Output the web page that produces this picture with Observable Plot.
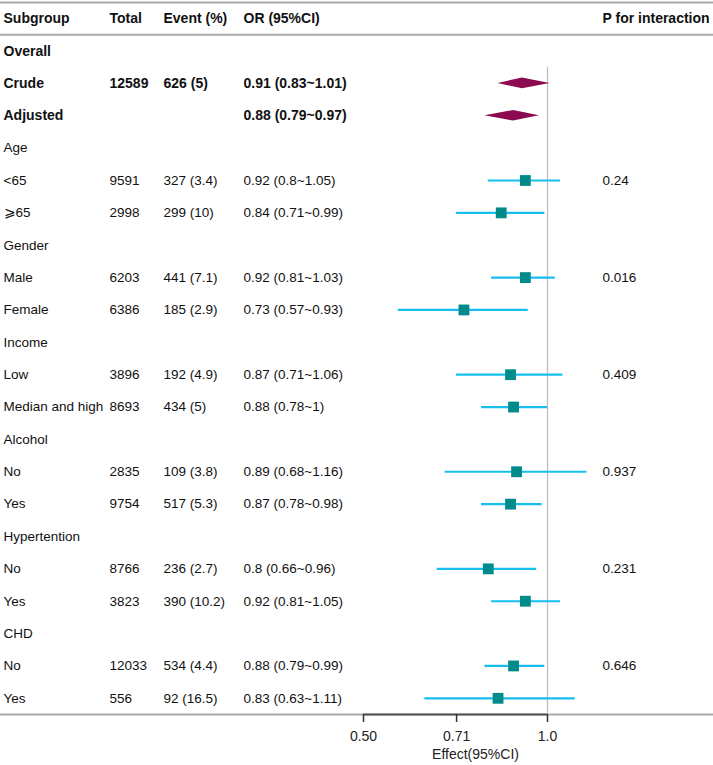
<!DOCTYPE html>
<html>
<head>
<meta charset="utf-8">
<script src="https://cdn.jsdelivr.net/npm/d3@7"></script>
<script src="https://cdn.jsdelivr.net/npm/@observablehq/plot@0.6"></script>
<style>
  html, body { margin: 0; padding: 0; background: #fff; }
  #chart { width: 713px; height: 765px; }
</style>
</head>
<body>
<div id="chart"></div>
<script>
// ---- data ----
const headers = ["Subgroup", "Total", "Event (%)", "OR (95%CI)", "P for interaction"];
const subgroups = ["Overall", "Crude", "Adjusted", "Age", "<65", "\u2A7E65", "Gender", "Male", "Female",
  "Income", "Low", "Median and high", "Alcohol", "No", "Yes", "Hypertention", "No", "Yes", "CHD", "No", "Yes"];
const boldRows = ["Overall", "Crude", "Adjusted"];
const summaryRows = ["Crude", "Adjusted"];
const totals = [null, 12589, null, null, 9591, 2998, null, 6203, 6386, null, 3896, 8693, null, 2835, 9754, null, 8766, 3823, null, 12033, 556];
const events = [null, 626, null, null, 327, 299, null, 441, 185, null, 192, 434, null, 109, 517, null, 236, 390, null, 534, 92];
const eventPct = [null, 5, null, null, 3.4, 10, null, 7.1, 2.9, null, 4.9, 5, null, 3.8, 5.3, null, 2.7, 10.2, null, 4.4, 16.5];
const orEst = [null, 0.91, 0.88, null, 0.92, 0.84, null, 0.92, 0.73, null, 0.87, 0.88, null, 0.89, 0.87, null, 0.8, 0.92, null, 0.88, 0.83];
const orLow = [null, 0.83, 0.79, null, 0.8, 0.71, null, 0.81, 0.57, null, 0.71, 0.78, null, 0.68, 0.78, null, 0.66, 0.81, null, 0.79, 0.63];
const orHigh = [null, 1.01, 0.97, null, 1.05, 0.99, null, 1.03, 0.93, null, 1.06, 1, null, 1.16, 0.98, null, 0.96, 1.05, null, 0.99, 1.11];
const pInteraction = [null, null, null, null, "0.24", null, null, "0.016", null, null, "0.409", null, null, "0.937", null, null, "0.231", null, null, "0.646", null];
const tickValues = [0.5, 0.71, 1.0];
const tickLabels = ["0.50", "0.71", "1.0"];
const axisTitle = "Effect(95%CI)";

// ---- table ----
const rows = subgroups.map((s, k) => ({
  i: k + 1,
  subgroup: s,
  bold: boldRows.includes(s) && k < 3,
  summary: summaryRows.includes(s) && k < 3,
  total: totals[k],
  event: events[k],
  pct: eventPct[k],
  est: orEst[k], lo: orLow[k], hi: orHigh[k],
  p: pInteraction[k]
}));
const withOR = rows.filter(d => d.est != null);
const squares = withOR.filter(d => !d.summary);
const diamonds = withOR.filter(d => d.summary);
const diamondPts = diamonds.flatMap(d => [
  {i: d.i, x: d.lo, y1: d.i, y2: d.i},
  {i: d.i, x: d.est, y1: d.i - 0.165, y2: d.i + 0.165},
  {i: d.i, x: d.hi, y1: d.i, y2: d.i}
]);
const headerRow = [{i: 0}];
const colX = [3, 109, 163, 243, 602];
const cols = [
  d => d.subgroup,
  d => d.total == null ? "" : String(d.total),
  d => d.event == null ? "" : `${d.event} (${d.pct})`,
  d => d.est == null ? "" : `${d.est} (${d.lo}~${d.hi})`,
  d => d.p == null ? "" : d.p
];
const FS = 13.5;
const FSB = 14;

const textMarks = [];
for (const [bold, subset] of [[true, rows.filter(d => d.bold)], [false, rows.filter(d => !d.bold)]]) {
  cols.forEach((fn, c) => {
    textMarks.push(Plot.text(subset, {
      y: "i", text: fn, frameAnchor: "left", dx: colX[c], textAnchor: "start",
      fontWeight: bold ? "bold" : "normal", fill: "#111", fontSize: bold ? FSB : FS
    }));
  });
}
headers.forEach((h, c) => {
  textMarks.push(Plot.text(headerRow, {
    y: "i", text: () => h, frameAnchor: "left", dx: colX[c], textAnchor: "start",
    fontWeight: "bold", fill: "#111", fontSize: FSB
  }));
});

const chart = Plot.plot({
  width: 713, height: 765,
  marginTop: 2, marginBottom: 51, marginLeft: 0, marginRight: 0,
  style: {fontFamily: "'Liberation Sans', Arial, sans-serif", fontSize: "13px", background: "#fff", color: "#222"},
  x: {type: "log", domain: [0.5, 1], range: [363, 547]},
  y: {domain: [-0.5, 21.5], reverse: true, axis: null},
  marks: [
    Plot.ruleY([-0.5, 0.5, 21.5], {stroke: "#aaa", strokeWidth: 2}),
    Plot.ruleY([21.5], {x1: tickValues[0], x2: tickValues[tickValues.length - 1], stroke: "#555", strokeWidth: 2}),
    Plot.ruleX([1], {y1: 1.5, y2: 21.5, stroke: "#bbb", strokeWidth: 1.2}),
    Plot.axisX({ticks: tickValues, tickFormat: d => tickLabels[tickValues.indexOf(d)], tickSize: 8, tickPadding: 9,
      stroke: "#333", strokeWidth: 1.5, label: null, fontSize: 14, fill: "#222"}),
    Plot.text([axisTitle], {frameAnchor: "bottom-left", dx: 475, dy: 44, textAnchor: "middle", fontSize: 14, fill: "#222"}),
    Plot.ruleY(squares, {y: "i", x1: "lo", x2: "hi", stroke: "#16bff0", strokeWidth: 2.2}),
    Plot.dot(squares, {y: "i", x: "est", symbol: "square", r: 6.1, fill: "#008b8b", stroke: "none"}),
    Plot.areaY(diamondPts, {x: "x", y1: "y1", y2: "y2", z: "i", fill: "#8b0a50", curve: "linear"}),
    ...textMarks
  ]
});
document.getElementById("chart").appendChild(chart);
</script>
</body>
</html>
